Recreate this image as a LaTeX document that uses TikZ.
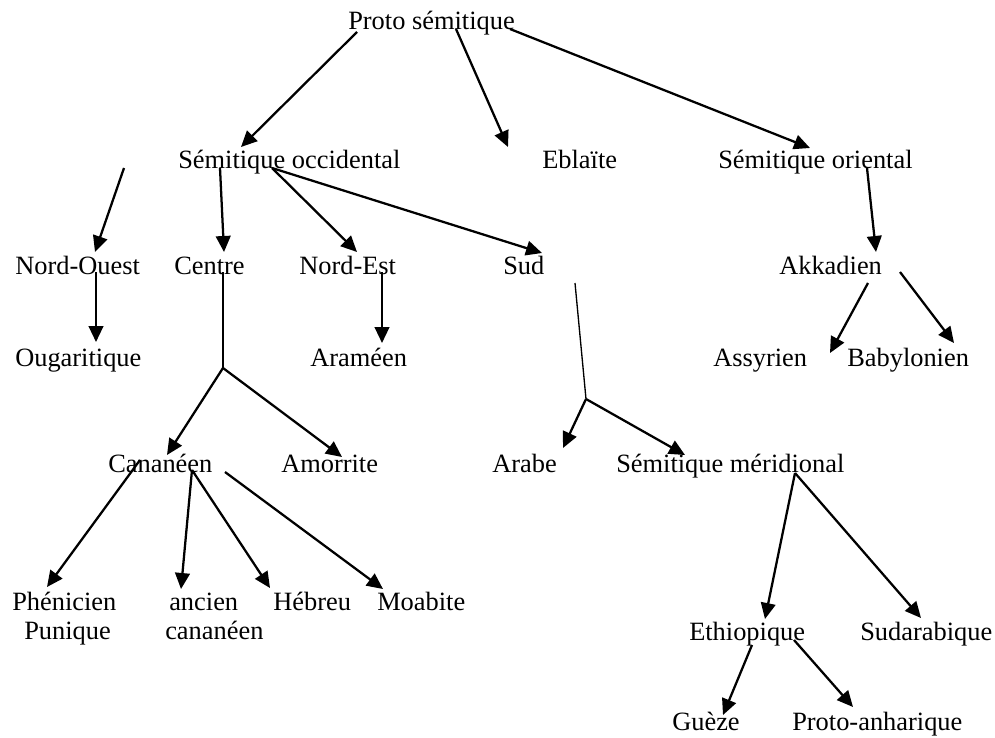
\documentclass[tikz,border=0pt]{standalone}
\usepackage{fontspec}
\setmainfont{Liberation Serif}
\usetikzlibrary{arrows.meta}
\begin{document}
\begin{tikzpicture}[x=0.75pt,y=-0.75pt,
  lbl/.style={anchor=base west,inner sep=0pt,font=\fontsize{19.8pt}{24pt}\selectfont},
  arr/.style={line width=1.7pt,-{Triangle[length=12pt,width=11pt]}},
  stem/.style={line width=1pt}]
\useasboundingbox (0,0) rectangle (995,738);
% labels
\node[lbl] (proto) at (348,30) {Proto sémitique};
\node[lbl] (socc) at (178,168) {Sémitique occidental};
\node[lbl] (ebla) at (542,168) {Eblaïte};
\node[lbl] (sori) at (718,168) {Sémitique oriental};
\node[lbl] (nouest) at (15,274) {Nord-Ouest};
\node[lbl] (centre) at (174,274) {Centre};
\node[lbl] (nest) at (299,274) {Nord-Est};
\node[lbl] (sud) at (503,274) {Sud};
\node[lbl] (akk) at (779,274) {Akkadien};
\node[lbl] (ougar) at (15,366) {Ougaritique};
\node[lbl] (aram) at (310,366) {Araméen};
\node[lbl] (assy) at (713,366) {Assyrien};
\node[lbl] (baby) at (847,366) {Babylonien};
\node[lbl] (canan) at (108,472) {Cananéen};
\node[lbl] (amor) at (281,472) {Amorrite};
\node[lbl] (arabe) at (492,472) {Arabe};
\node[lbl] (smer) at (616,472) {Sémitique méridional};
\node[lbl] (phen) at (12,610) {Phénicien};
\node[lbl] (puni) at (24,639) {Punique};
\node[lbl] (ancien) at (169,610) {ancien};
\node[lbl] (cananeen) at (165,639) {cananéen};
\node[lbl] (hebr) at (273,610) {Hébreu};
\node[lbl] (moab) at (377,610) {Moabite};
\node[lbl] (ethio) at (689,640) {Ethiopique};
\node[lbl] (sudar) at (860,640) {Sudarabique};
\node[lbl] (gueze) at (672,730) {Guèze};
\node[lbl] (panh) at (792,730) {Proto-anharique};
% connector end points
\coordinate (pA) at (357,32);  \coordinate (soccT) at (241,147);
\coordinate (pB) at (456,29);  \coordinate (eblaT) at (508,147);
\coordinate (pC) at (510,29);  \coordinate (soriT) at (810,148);
\coordinate (freeA) at (124,168); \coordinate (nouestT) at (95,252);
\coordinate (soccA) at (220,168); \coordinate (centreT) at (224,252);
\coordinate (soccB) at (272,168); \coordinate (nestT) at (357,252);
\coordinate (sudT) at (542,253);
\coordinate (nouestB) at (96,272); \coordinate (ougarT) at (96,342);
\coordinate (centreB) at (223,272); \coordinate (centreJ) at (223,368);
\coordinate (cananT) at (167,455); \coordinate (amorT) at (342,457);
\coordinate (nestB) at (382,272); \coordinate (aramT) at (382,343);
\coordinate (cananA) at (140,460); \coordinate (phenT) at (47,587);
\coordinate (cananB) at (192,470); \coordinate (ancienT) at (181,589);
\coordinate (hebrT) at (270,588);
\coordinate (cananC) at (225,472); \coordinate (moabT) at (383,589);
\coordinate (sudB) at (575,283); \coordinate (sudJ) at (586,399);
\coordinate (arabeT) at (563,448); \coordinate (smerT) at (685,455);
\coordinate (soriB) at (867,168); \coordinate (akkT) at (876,252);
\coordinate (akkA) at (868,283); \coordinate (assyT) at (830,353);
\coordinate (akkB) at (900,272); \coordinate (babyT) at (954,343);
\coordinate (smerB) at (795,473); \coordinate (ethioT) at (765,619);
\coordinate (sudarT) at (921,618);
\coordinate (ethioA) at (752,645); \coordinate (guezeT) at (723,715);
\coordinate (ethioB) at (794,640); \coordinate (panhT) at (853,707);
% connectors
\draw[arr] (pA) -- (soccT);
\draw[arr] (pB) -- (eblaT);
\draw[arr] (pC) -- (soriT);
\draw[arr] (freeA) -- (nouestT);
\draw[arr] (soccA) -- (centreT);
\draw[arr] (soccB) -- (nestT);
\draw[arr] (soccB) -- (sudT);
\draw[arr] (nouestB) -- (ougarT);
\draw[stem] (centreB) -- (centreJ);
\draw[arr] (centreJ) -- (cananT);
\draw[arr] (centreJ) -- (amorT);
\draw[arr] (nestB) -- (aramT);
\draw[arr] (cananA) -- (phenT);
\draw[arr] (cananB) -- (ancienT);
\draw[arr] (cananB) -- (hebrT);
\draw[arr] (cananC) -- (moabT);
\draw[stem] (sudB) -- (sudJ);
\draw[arr] (sudJ) -- (arabeT);
\draw[arr] (sudJ) -- (smerT);
\draw[arr] (soriB) -- (akkT);
\draw[arr] (akkA) -- (assyT);
\draw[arr] (akkB) -- (babyT);
\draw[arr] (smerB) -- (ethioT);
\draw[arr] (smerB) -- (sudarT);
\draw[arr] (ethioA) -- (guezeT);
\draw[arr] (ethioB) -- (panhT);
\end{tikzpicture}
\end{document}
